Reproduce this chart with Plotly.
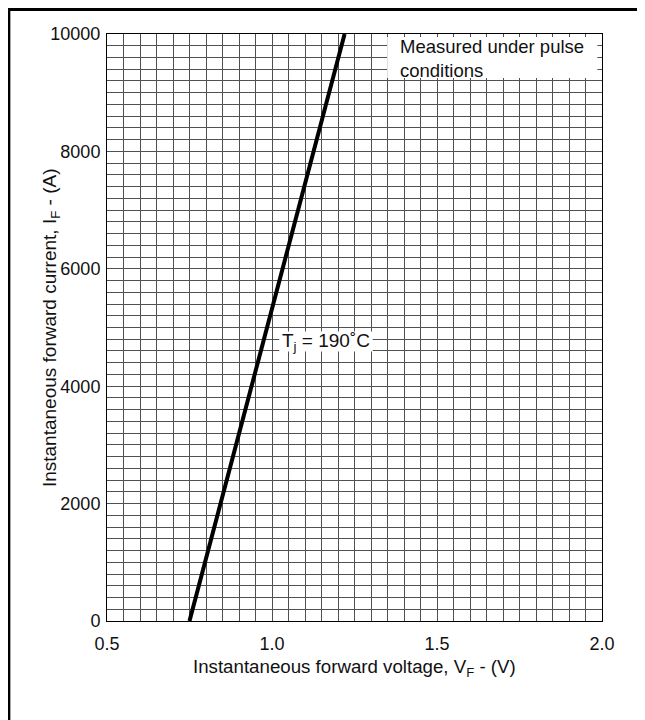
import plotly.graph_objects as go

# Data
voltage_v = [0.75, 1.22]
current_a = [0, 10000]
x_tick_vals = [0.5, 1.0, 1.5, 2.0]
x_tick_text = ["0.5", "1.0", "1.5", "2.0"]
y_tick_vals = [0, 2000, 4000, 6000, 8000, 10000]
y_tick_text = ["0", "2000", "4000", "6000", "8000", "10000"]

FONT = "Liberation Sans, Arial, sans-serif"
GRID = "#505050"

fig = go.Figure()
fig.add_trace(go.Scatter(x=voltage_v, y=current_a, mode="lines",
                         line=dict(color="black", width=4), showlegend=False,
                         hoverinfo="skip"))

fig.update_layout(
    width=645, height=720,
    margin=dict(l=99, r=51, t=26, b=107),
    paper_bgcolor="white", plot_bgcolor="white",
    font=dict(family=FONT, color="#111111", size=18),
    xaxis=dict(range=[0.5, 2.0], tickvals=x_tick_vals, ticktext=x_tick_text,
               showgrid=True, gridcolor=GRID, gridwidth=1,
               minor=dict(dtick=0.05, showgrid=True, gridcolor=GRID, gridwidth=1),
               showline=True, linecolor="black", linewidth=1, mirror=True,
               zeroline=False, ticks="", ticklabelstandoff=6,
               tickfont=dict(size=18)),
    yaxis=dict(range=[0, 10000], tickvals=y_tick_vals, ticktext=y_tick_text,
               showgrid=True, gridcolor=GRID, gridwidth=1,
               minor=dict(dtick=200, showgrid=True, gridcolor=GRID, gridwidth=1),
               showline=True, linecolor="black", linewidth=1, mirror=True,
               zeroline=False, ticks="", ticklabelstandoff=2,
               tickfont=dict(size=18)),
)

# White label boxes covering the grid
fig.add_shape(type="rect", xref="x", yref="y", x0=1.349, x1=1.986, y0=9250, y1=9949,
              fillcolor="white", line=dict(width=0), layer="above")
fig.add_shape(type="rect", xref="x", yref="y", x0=1.022, x1=1.305, y0=4590, y1=4930,
              fillcolor="white", line=dict(width=0), layer="above")

fig.add_annotation(x=1.382, y=9795, xref="x", yref="y", text="Measured under pulse",
                   showarrow=False, xanchor="left", yanchor="middle",
                   font=dict(size=18.5, family=FONT, color="#111111"))
fig.add_annotation(x=1.382, y=9385, xref="x", yref="y", text="conditions",
                   showarrow=False, xanchor="left", yanchor="middle",
                   font=dict(size=18.5, family=FONT, color="#111111"))
fig.add_annotation(x=1.165, y=4760, xref="x", yref="y",
                   text="T<sub>j</sub> = 190˚C",
                   showarrow=False, xanchor="center", yanchor="middle",
                   font=dict(size=19, family=FONT, color="#111111"))

# Axis titles
fig.add_annotation(x=0.5, y=-0.08, xref="paper", yref="paper",
                   text="Instantaneous forward voltage, V<sub>F</sub> - (V)",
                   showarrow=False, xanchor="center", yanchor="middle",
                   font=dict(size=18.7, family=FONT, color="#111111"))
fig.add_annotation(x=-0.114, y=0.5, xref="paper", yref="paper",
                   text="Instantaneous forward current, I<sub>F</sub> - (A)",
                   showarrow=False, xanchor="center", yanchor="middle", textangle=-90,
                   font=dict(size=19, family=FONT, color="#111111"))

# Page frame (top and left)
fig.add_shape(type="line", xref="paper", yref="paper", x0=-0.203, x1=1.1, y0=1.0426, y1=1.0426,
              line=dict(color="black", width=4))
fig.add_shape(type="line", xref="paper", yref="paper", x0=-0.1993, x1=-0.1993, y0=1.046, y1=-0.2,
              line=dict(color="black", width=4))

fig.write_html("out.html")
